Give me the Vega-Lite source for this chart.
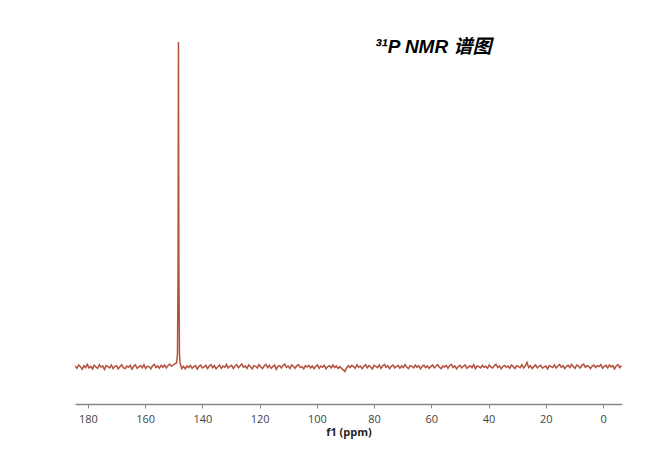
{
  "$schema": "https://vega.github.io/schema/vega-lite/v6.json",
  "width": 547,
  "height": 362,
  "autosize": "none",
  "padding": {"left": 75, "top": 42, "right": 48, "bottom": 48},
  "background": "white",
  "config": {"view": {"stroke": null}},
  "datasets": {
    "spec": [
      {"p":184.4,"i":0.003},{"p":183.8,"i":-0.004},{"p":183.2,"i":0.006},{"p":182.6,"i":0.001},{"p":182.0,"i":-0.007},{"p":181.4,"i":0.004},{"p":180.8,"i":-0.002},{"p":180.2,"i":0.008},{"p":179.6,"i":-0.003},{"p":179.0,"i":0.002},
      {"p":178.4,"i":-0.006},{"p":177.8,"i":0.005},{"p":177.2,"i":0.000},{"p":176.6,"i":-0.004},{"p":176.0,"i":0.007},{"p":175.4,"i":-0.001},{"p":174.8,"i":0.003},{"p":174.2,"i":-0.008},{"p":173.6,"i":0.004},{"p":173.0,"i":0.001},
      {"p":172.4,"i":-0.003},{"p":171.8,"i":0.006},{"p":171.2,"i":-0.005},{"p":170.6,"i":0.002},{"p":170.0,"i":0.004},{"p":169.4,"i":-0.006},{"p":168.8,"i":0.001},{"p":168.2,"i":0.007},{"p":167.6,"i":-0.002},{"p":167.0,"i":-0.005},
      {"p":166.4,"i":0.003},{"p":165.8,"i":-0.001},{"p":165.2,"i":0.005},{"p":164.6,"i":-0.007},{"p":164.0,"i":0.002},{"p":163.4,"i":0.006},{"p":162.8,"i":-0.004},{"p":162.2,"i":0.000},{"p":161.6,"i":0.004},{"p":161.0,"i":-0.003},
      {"p":160.4,"i":0.007},{"p":159.8,"i":-0.005},{"p":159.2,"i":0.002},{"p":158.6,"i":0.001},{"p":158.0,"i":-0.006},{"p":157.4,"i":0.004},{"p":156.8,"i":0.008},{"p":156.2,"i":-0.002},{"p":155.6,"i":0.003},{"p":155.0,"i":-0.004},
      {"p":154.4,"i":0.005},{"p":153.8,"i":-0.001},{"p":153.2,"i":0.006},{"p":152.6,"i":-0.003},{"p":152.0,"i":0.004},{"p":151.4,"i":0.009},{"p":150.8,"i":0.002},{"p":150.2,"i":0.006},{"p":149.6,"i":0.010},{"p":149.0,"i":0.012},
      {"p":148.7,"i":0.04},{"p":148.5,"i":0.3},{"p":148.35,"i":1.0},{"p":148.2,"i":0.3},{"p":148.0,"i":0.04},{"p":147.8,"i":0.012},
      {"p":147.2,"i":-0.005},{"p":146.6,"i":0.002},{"p":146.0,"i":-0.006},{"p":145.4,"i":0.003},{"p":144.8,"i":-0.002},{"p":144.2,"i":0.005},{"p":143.6,"i":-0.004},{"p":143.0,"i":0.001},
      {"p":142.4,"i":0.004},{"p":141.8,"i":-0.007},{"p":141.2,"i":0.002},{"p":140.6,"i":0.006},{"p":140.0,"i":-0.003},{"p":139.4,"i":0.000},{"p":138.8,"i":0.005},{"p":138.2,"i":-0.005},{"p":137.6,"i":0.003},{"p":137.0,"i":0.007},
      {"p":136.4,"i":-0.002},{"p":135.8,"i":0.004},{"p":135.2,"i":-0.006},{"p":134.6,"i":0.001},{"p":134.0,"i":0.006},{"p":133.4,"i":-0.004},{"p":132.8,"i":0.003},{"p":132.2,"i":-0.001},{"p":131.6,"i":0.008},{"p":131.0,"i":-0.003},
      {"p":130.4,"i":0.002},{"p":129.8,"i":0.005},{"p":129.2,"i":-0.005},{"p":128.6,"i":0.003},{"p":128.0,"i":0.007},{"p":127.4,"i":-0.002},{"p":126.8,"i":0.004},{"p":126.2,"i":0.009},{"p":125.6,"i":-0.001},{"p":125.0,"i":0.003},
      {"p":124.4,"i":-0.004},{"p":123.8,"i":0.006},{"p":123.2,"i":0.001},{"p":122.6,"i":-0.006},{"p":122.0,"i":0.004},{"p":121.4,"i":0.002},{"p":120.8,"i":-0.003},{"p":120.2,"i":0.007},{"p":119.6,"i":0.000},{"p":119.0,"i":-0.005},
      {"p":118.4,"i":0.003},{"p":117.8,"i":0.008},{"p":117.2,"i":-0.002},{"p":116.6,"i":0.005},{"p":116.0,"i":-0.004},{"p":115.4,"i":0.001},{"p":114.8,"i":0.006},{"p":114.2,"i":-0.007},{"p":113.6,"i":0.002},{"p":113.0,"i":0.004},
      {"p":112.4,"i":-0.003},{"p":111.8,"i":0.005},{"p":111.2,"i":0.009},{"p":110.6,"i":-0.001},{"p":110.0,"i":0.003},{"p":109.4,"i":-0.005},{"p":108.8,"i":0.006},{"p":108.2,"i":0.002},{"p":107.6,"i":-0.004},{"p":107.0,"i":0.004},
      {"p":106.4,"i":0.007},{"p":105.8,"i":-0.002},{"p":105.2,"i":0.001},{"p":104.6,"i":-0.006},{"p":104.0,"i":0.004},{"p":103.4,"i":0.000},{"p":102.8,"i":0.005},{"p":102.2,"i":-0.003},{"p":101.6,"i":0.003},{"p":101.0,"i":-0.005},
      {"p":100.4,"i":0.002},{"p":99.8,"i":0.006},{"p":99.2,"i":-0.004},{"p":98.6,"i":0.003},{"p":98.0,"i":-0.001},{"p":97.4,"i":0.005},{"p":96.8,"i":-0.006},{"p":96.2,"i":0.001},{"p":95.6,"i":0.004},{"p":95.0,"i":-0.003},
      {"p":94.4,"i":0.006},{"p":93.8,"i":-0.002},{"p":93.2,"i":0.003},{"p":92.6,"i":-0.005},{"p":92.0,"i":0.001},{"p":91.4,"i":-0.004},{"p":90.8,"i":-0.009},{"p":90.2,"i":-0.014},{"p":89.6,"i":-0.003},{"p":89.0,"i":0.004},
      {"p":88.4,"i":-0.002},{"p":87.8,"i":0.005},{"p":87.2,"i":0.001},{"p":86.6,"i":-0.004},{"p":86.0,"i":0.006},{"p":85.4,"i":-0.001},{"p":84.8,"i":0.003},{"p":84.2,"i":-0.005},{"p":83.6,"i":0.002},{"p":83.0,"i":0.007},
      {"p":82.4,"i":-0.003},{"p":81.8,"i":0.004},{"p":81.2,"i":0.000},{"p":80.6,"i":-0.006},{"p":80.0,"i":0.005},{"p":79.4,"i":0.002},{"p":78.8,"i":-0.002},{"p":78.2,"i":0.006},{"p":77.6,"i":-0.004},{"p":77.0,"i":0.003},
      {"p":76.4,"i":0.008},{"p":75.8,"i":-0.001},{"p":75.2,"i":0.004},{"p":74.6,"i":-0.005},{"p":74.0,"i":0.002},{"p":73.4,"i":0.006},{"p":72.8,"i":-0.003},{"p":72.2,"i":0.001},{"p":71.6,"i":0.005},{"p":71.0,"i":-0.004},
      {"p":70.4,"i":0.003},{"p":69.8,"i":-0.002},{"p":69.2,"i":0.007},{"p":68.6,"i":0.000},{"p":68.0,"i":-0.005},{"p":67.4,"i":0.004},{"p":66.8,"i":0.002},{"p":66.2,"i":-0.003},{"p":65.6,"i":0.006},{"p":65.0,"i":-0.001},
      {"p":64.4,"i":0.004},{"p":63.8,"i":-0.006},{"p":63.2,"i":0.002},{"p":62.6,"i":0.005},{"p":62.0,"i":-0.002},{"p":61.4,"i":0.003},{"p":60.8,"i":-0.004},{"p":60.2,"i":0.001},{"p":59.6,"i":0.006},{"p":59.0,"i":-0.003},
      {"p":58.4,"i":0.002},{"p":57.8,"i":0.007},{"p":57.2,"i":-0.001},{"p":56.6,"i":-0.005},{"p":56.0,"i":0.003},{"p":55.4,"i":0.000},{"p":54.8,"i":0.005},{"p":54.2,"i":-0.004},{"p":53.6,"i":0.004},{"p":53.0,"i":0.008},
      {"p":52.4,"i":-0.002},{"p":51.8,"i":0.003},{"p":51.2,"i":-0.006},{"p":50.6,"i":0.001},{"p":50.0,"i":0.005},{"p":49.4,"i":-0.003},{"p":48.8,"i":0.002},{"p":48.2,"i":0.006},{"p":47.6,"i":-0.004},{"p":47.0,"i":0.000},
      {"p":46.4,"i":0.004},{"p":45.8,"i":-0.002},{"p":45.2,"i":0.007},{"p":44.6,"i":-0.005},{"p":44.0,"i":0.003},{"p":43.4,"i":0.001},{"p":42.8,"i":-0.003},{"p":42.2,"i":0.005},{"p":41.6,"i":-0.001},{"p":41.0,"i":0.002},
      {"p":40.4,"i":-0.004},{"p":39.8,"i":0.006},{"p":39.2,"i":0.000},{"p":38.6,"i":-0.003},{"p":38.0,"i":0.004},{"p":37.4,"i":0.008},{"p":36.8,"i":-0.002},{"p":36.2,"i":0.003},{"p":35.6,"i":-0.006},{"p":35.0,"i":0.002},
      {"p":34.4,"i":0.005},{"p":33.8,"i":-0.001},{"p":33.2,"i":0.003},{"p":32.6,"i":-0.004},{"p":32.0,"i":0.006},{"p":31.4,"i":0.001},{"p":30.8,"i":-0.005},{"p":30.2,"i":0.004},{"p":29.6,"i":0.002},{"p":29.0,"i":-0.002},
      {"p":28.4,"i":0.007},{"p":27.8,"i":-0.003},{"p":27.2,"i":0.003},{"p":26.6,"i":0.014},{"p":26.0,"i":-0.002},{"p":25.4,"i":0.004},{"p":24.8,"i":-0.005},{"p":24.2,"i":0.001},{"p":23.6,"i":0.006},{"p":23.0,"i":-0.003},
      {"p":22.4,"i":0.002},{"p":21.8,"i":0.005},{"p":21.2,"i":-0.004},{"p":20.6,"i":0.000},{"p":20.0,"i":0.003},{"p":19.4,"i":-0.006},{"p":18.8,"i":0.004},{"p":18.2,"i":0.001},{"p":17.6,"i":-0.002},{"p":17.0,"i":0.006},
      {"p":16.4,"i":-0.003},{"p":15.8,"i":0.003},{"p":15.2,"i":0.007},{"p":14.6,"i":-0.001},{"p":14.0,"i":0.004},{"p":13.4,"i":-0.005},{"p":12.8,"i":0.002},{"p":12.2,"i":0.005},{"p":11.6,"i":-0.002},{"p":11.0,"i":0.008},
      {"p":10.4,"i":0.001},{"p":9.8,"i":-0.004},{"p":9.2,"i":0.006},{"p":8.6,"i":0.003},{"p":8.0,"i":-0.003},{"p":7.4,"i":0.005},{"p":6.8,"i":0.009},{"p":6.2,"i":-0.001},{"p":5.6,"i":0.004},{"p":5.0,"i":0.002},
      {"p":4.4,"i":-0.005},{"p":3.8,"i":0.003},{"p":3.2,"i":0.006},{"p":2.6,"i":-0.002},{"p":2.0,"i":0.004},{"p":1.4,"i":0.001},{"p":0.8,"i":0.007},{"p":0.2,"i":-0.004},{"p":-0.4,"i":0.002},{"p":-1.0,"i":0.005},
      {"p":-1.6,"i":-0.003},{"p":-2.2,"i":0.006},{"p":-2.8,"i":0.000},{"p":-3.4,"i":0.004},{"p":-4.0,"i":-0.006},{"p":-4.6,"i":0.003},{"p":-5.2,"i":0.007},{"p":-5.8,"i":-0.002},{"p":-6.4,"i":0.004}
    ],
    "label": [{"p": 79.7, "i": 0.985, "t": "³¹P NMR 谱图"}]
  },
  "layer": [
    {
      "data": {"name": "spec"},
      "mark": {"type": "line", "color": "#b4503c", "strokeWidth": 1.5, "clip": true},
      "encoding": {
        "x": {
          "field": "p",
          "type": "quantitative",
          "scale": {"domain": [184.5, -6.6], "nice": false, "zero": false},
          "axis": {
            "title": "f1 (ppm)",
            "values": [180, 170, 160, 150, 140, 130, 120, 110, 100, 90, 80, 70, 60, 50, 40, 30, 20, 10, 0],
            "labelExpr": "datum.value % 20 === 0 ? datum.label : ''",
            "domainColor": "#888888",
            "domainWidth": 1.5,
            "tickColor": "#888888",
            "tickSize": 4,
            "grid": false,
            "labelFont": "Open Sans",
            "labelFontSize": 11,
            "labelColor": "#444444",
            "labelPadding": 5,
            "titleFont": "Open Sans",
            "titleFontSize": 11,
            "titleFontWeight": "bold",
            "titleColor": "#222222",
            "titlePadding": 2
          }
        },
        "y": {
          "field": "i",
          "type": "quantitative",
          "scale": {"domain": [-0.114, 1], "nice": false, "zero": false},
          "axis": null
        }
      }
    },
    {
      "data": {"name": "label"},
      "mark": {"type": "text", "align": "left", "baseline": "middle", "font": "Liberation Sans, Noto Sans CJK SC", "fontSize": 19, "fontWeight": "bold", "fontStyle": "italic", "color": "#000000"},
      "encoding": {
        "x": {"field": "p", "type": "quantitative"},
        "y": {"field": "i", "type": "quantitative"},
        "text": {"field": "t"}
      }
    }
  ]
}
